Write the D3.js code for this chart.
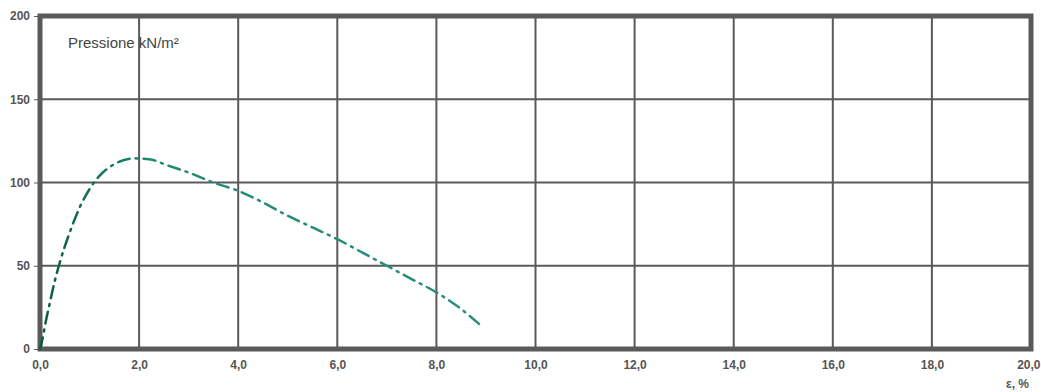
<!DOCTYPE html>
<html><head><meta charset="utf-8">
<script src="https://cdn.jsdelivr.net/npm/d3@7"></script>
<style>body{margin:0;background:#fff}svg{display:block}</style>
</head><body>
<svg id="c" width="1041" height="392"></svg>
<script>
const strain = [0, 0.05, 0.1, 0.2, 0.3, 0.4, 0.6, 0.8, 1.0, 1.2, 1.5, 1.9, 2.2, 2.6, 3.0, 3.5, 4.0, 4.5, 5.0, 5.5, 6.0, 6.5, 7.0, 7.5, 8.0, 8.5, 8.9];
const pressure = [0, 6, 14, 28, 41, 52, 70, 85, 96, 104, 111, 114.5, 114, 110, 106, 100, 95, 88, 80, 73, 66, 58, 50, 42, 34, 24, 14];
const xTicks = [0, 2, 4, 6, 8, 10, 12, 14, 16, 18, 20];
const yTicks = [0, 50, 100, 150, 200];
const yLabel = "Pressione kN/m²";
const xLabel = "ε, %";

const svg = d3.select("#c");
const m = {l: 40, r: 1031, t: 16, b: 349};
const x = d3.scaleLinear().domain([0, 20]).range([m.l, m.r]);
const y = d3.scaleLinear().domain([0, 200]).range([m.b, m.t]);
const grid = "#5a5a5a";
const fmt = d => d3.format(".1f")(d).replace(".", ",");
const font = "Liberation Sans, Arial, sans-serif";

// grid
svg.append("g").selectAll("line").data(xTicks.slice(1, -1)).join("line")
  .attr("x1", d => x(d)).attr("x2", d => x(d)).attr("y1", m.t).attr("y2", m.b)
  .attr("stroke", grid).attr("stroke-width", 2);
svg.append("g").selectAll("line").data(yTicks.slice(1, -1)).join("line")
  .attr("x1", m.l).attr("x2", m.r).attr("y1", d => y(d)).attr("y2", d => y(d))
  .attr("stroke", grid).attr("stroke-width", 2);

// border
svg.append("rect").attr("x", m.l).attr("y", m.t).attr("width", m.r - m.l).attr("height", m.b - m.t)
  .attr("fill", "none").attr("stroke", grid).attr("stroke-width", 5);

// axes
const ax = svg.append("g").attr("transform", `translate(0,${m.b + 2})`)
  .call(d3.axisBottom(x).tickValues(xTicks).tickFormat(fmt).tickSize(0).tickPadding(9));
const ay = svg.append("g").attr("transform", `translate(${m.l - 2},0)`)
  .call(d3.axisLeft(y).tickValues(yTicks).tickSize(4).tickPadding(4));
[ax, ay].forEach(g => {
  g.select(".domain").remove();
  g.selectAll("line").attr("stroke", grid);
  g.selectAll("text").attr("font-family", font)
    .attr("font-size", 12).attr("font-weight", "bold").attr("fill", "#555");
});
// keep last x label inside the window
ax.selectAll(".tick text").filter(d => d === 20).attr("text-anchor", "end").attr("dx", 9);

// curve
const line = d3.line().x((d, i) => x(strain[i])).y(d => y(d)).curve(d3.curveMonotoneX);
const defs = svg.append("defs");
const grad = defs.append("linearGradient").attr("id", "g1").attr("gradientUnits", "userSpaceOnUse")
  .attr("x1", x(0)).attr("x2", x(9)).attr("y1", 0).attr("y2", 0);
grad.append("stop").attr("offset", "0%").attr("stop-color", "#0b5a45");
grad.append("stop").attr("offset", "25%").attr("stop-color", "#1f8a73");
grad.append("stop").attr("offset", "100%").attr("stop-color", "#2a8f7c");
svg.append("path").datum(pressure).attr("d", line)
  .attr("fill", "none").attr("stroke", "url(#g1)").attr("stroke-width", 2.5)
  .attr("stroke-dasharray", "12,6,2,6").attr("stroke-linecap", "round");

// labels
svg.append("text").attr("x", 68).attr("y", 48).text(yLabel)
  .attr("font-family", font).attr("font-size", 15).attr("fill", "#444");
svg.append("text").attr("x", 1006).attr("y", 388).text(xLabel)
  .attr("font-family", font).attr("font-size", 12).attr("font-weight", "bold").attr("fill", "#555");
</script>
</body></html>
